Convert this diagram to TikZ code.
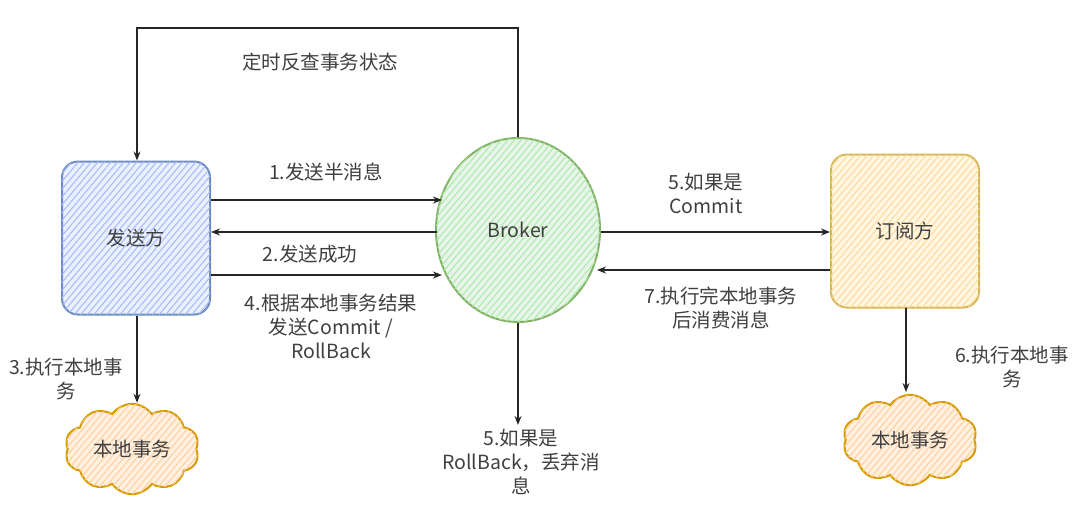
\documentclass[tikz,border=0pt]{standalone}
\usepackage{fontspec}
\setmainfont{Noto Sans CJK SC}
\usetikzlibrary{arrows.meta,shapes.geometric,shapes.symbols,patterns.meta}
\definecolor{bluefill}{HTML}{DAE8FC}
\definecolor{blueline}{HTML}{6C8EBF}
\definecolor{greenfill}{HTML}{D5E8D4}
\definecolor{greenline}{HTML}{82B366}
\definecolor{yelfill}{HTML}{FFF2CC}
\definecolor{yelline}{HTML}{D6B656}
\definecolor{orfill}{HTML}{FFE6CC}
\definecolor{orline}{HTML}{D79B00}
\tikzset{
  txt/.style={font=\fontsize{19.5}{24}\selectfont, text=black!75},
  lbl/.style={txt, align=center, inner sep=1pt},
  conn/.style={line width=1.8pt, black!85, -{Stealth[length=9pt,width=7pt]}},
  hatch/.style={pattern={Lines[angle=50,distance=5pt,line width=1.1pt]}, pattern color=#1},
  boxshape/.style={draw=#1, line width=2pt, rounded corners=16pt, minimum width=148pt, minimum height=153pt, txt},
  cloudshape/.style={cloud, cloud puffs=10, cloud puff arc=110, aspect=1.6, draw=orline, line width=2pt, minimum width=134pt, minimum height=80pt, txt},
}
\begin{document}
\begin{tikzpicture}[x=1pt,y=-1pt]
\useasboundingbox (0,0) rectangle (1081,512);
% shapes
\node[boxshape=blueline, fill=bluefill!60, postaction={hatch=bluefill!80!blue}] (snd) at (136,238) {发送方};
\node[ellipse, draw=greenline, line width=2pt, minimum width=164pt, minimum height=184pt, fill=greenfill!50, postaction={hatch=greenfill!80!green}, txt] (brk) at (518,230) {Broker};
\node[boxshape=yelline, fill=yelfill!60, postaction={hatch=yelfill!80!orange}] (sub) at (905,231) {订阅方};
\node[cloudshape, fill=orfill!60, postaction={hatch=orfill!80!orange}] (c1) at (132,449) {本地事务};
\node[cloudshape, fill=orfill!60, postaction={hatch=orfill!80!orange}] (c2) at (910,440) {本地事务};
% coordinates
\coordinate (t1) at (518,28);
\coordinate (t2) at (137,28);
\coordinate (rb) at (518,425);
% top loop
\draw[conn] (brk.north) -- (t1) -- (t2) -- (snd.north -| t2);
\node[lbl] (ltop) at (320,62) {定时反查事务状态};
% arrows sender <-> broker
\draw[conn] (snd.east |- 0,200) -- (442,200) coordinate (e1);
\node[lbl] (l1) at (326,172) {1.发送半消息};
\draw[conn] (437,232) -- (snd.east |- 0,232);
\node[lbl] (l2) at (310,254) {2.发送成功};
\draw[conn] (snd.east |- 0,275) -- (442,275);
\node[lbl] (l4) at (331,326) {4.根据本地事务结果\\发送Commit /\\RollBack};
% sender -> cloud
\draw[conn] (snd.south -| t2) -- (c1.north -| t2);
\node[lbl] (l3) at (66,379) {3.执行本地事\\务};
% broker down
\draw[conn] (brk.south) -- (rb);
\node[lbl] (l5b) at (521,462) {5.如果是\\RollBack，丢弃消\\息};
% broker <-> sub
\draw[conn] (brk.east |- 0,232) -- (sub.west |- 0,232);
\node[lbl] (l5) at (706,193) {5.如果是\\Commit};
\draw[conn] (sub.west |- 0,270) -- (597,270);
\node[lbl] (l7) at (721,308) {7.执行完本地事务\\后消费消息};
% sub -> cloud
\draw[conn] (906,308) -- (906,392);
\node[lbl] (l6) at (1012,367) {6.执行本地事\\务};
\end{tikzpicture}
\end{document}
